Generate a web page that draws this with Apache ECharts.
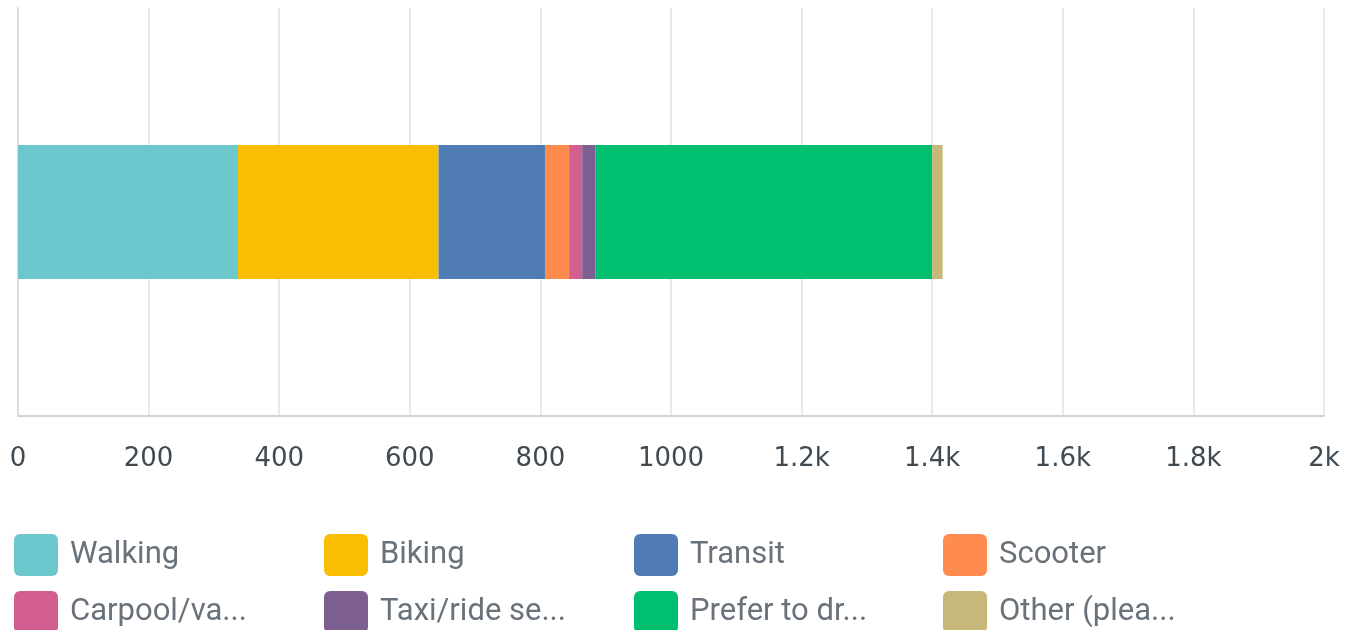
<!DOCTYPE html>
<html>
<head>
<meta charset="utf-8">
<script src="https://cdn.jsdelivr.net/npm/echarts@6/dist/echarts.min.js"></script>
<style>
html,body{margin:0;padding:0;background:#fff;}
#c{width:1346px;height:630px;}
</style>
</head>
<body>
<div id="c"></div>
<script>
const categories = ['Q'];
const seriesNames = ['Walking', 'Biking', 'Transit', 'Scooter', 'Carpool/vanpool', 'Taxi/ride share', 'Prefer to drive', 'Other (please specify)'];
const legendLabels = ['Walking', 'Biking', 'Transit', 'Scooter', 'Carpool/va...', 'Taxi/ride se...', 'Prefer to dr...', 'Other (plea...'];
const seriesValues = [337, 307, 163, 37, 20, 20, 516, 16];
const colors = ['#6BC8CD', '#F9BE00', '#507CB6', '#FF8B4F', '#D25F90', '#7D5E90', '#00BF6F', '#C7B879'];
const xTicks = { min: 0, max: 2000, interval: 200 };

const chart = echarts.init(document.getElementById('c'), null, { renderer: 'canvas' });
const iconPath = 'path://M6,0H38A6,6,0,0,1,44,6V36A6,6,0,0,1,38,42H6A6,6,0,0,1,0,36V6A6,6,0,0,1,6,0Z';
const colLeft = [14, 324, 634, 943];
const rowTop = [534, 591];

const legends = seriesNames.map(function (n, i) {
  return {
    left: colLeft[i % 4], top: rowTop[Math.floor(i / 4)], padding: 0,
    itemWidth: 44, itemHeight: 42, itemGap: 0,
    icon: iconPath, selectedMode: false,
    data: [n],
    formatter: function () { return legendLabels[i]; },
    textStyle: { fontFamily: 'Roboto', fontSize: 31, color: '#69727a', padding: [6, 0, 0, 7] }
  };
});

chart.setOption({
  animation: false,
  color: colors,
  grid: { left: 18, right: 22, top: 8, bottom: 214, containLabel: false },
  xAxis: {
    type: 'value', min: xTicks.min, max: xTicks.max, interval: xTicks.interval,
    axisLine: { show: true, lineStyle: { color: '#d4d4d4', width: 2 } },
    axisTick: { show: false },
    splitLine: { show: true, lineStyle: { color: '#e8e8e8', width: 2 } },
    axisLabel: {
      margin: 30, fontFamily: 'DejaVu Sans', fontSize: 26, color: '#3f4a52',
      formatter: function (v) { return v <= 1000 ? String(v) : (v / 1000) + 'k'; }
    }
  },
  yAxis: {
    type: 'category', data: categories,
    axisLine: { show: true, lineStyle: { color: '#dcdcdc', width: 2 } },
    axisTick: { show: false }, axisLabel: { show: false }
  },
  legend: legends,
  series: seriesNames.map(function (n, i) {
    return { name: n, type: 'bar', stack: 'total', barWidth: 134, data: [seriesValues[i]] };
  })
});
</script>
</body>
</html>
